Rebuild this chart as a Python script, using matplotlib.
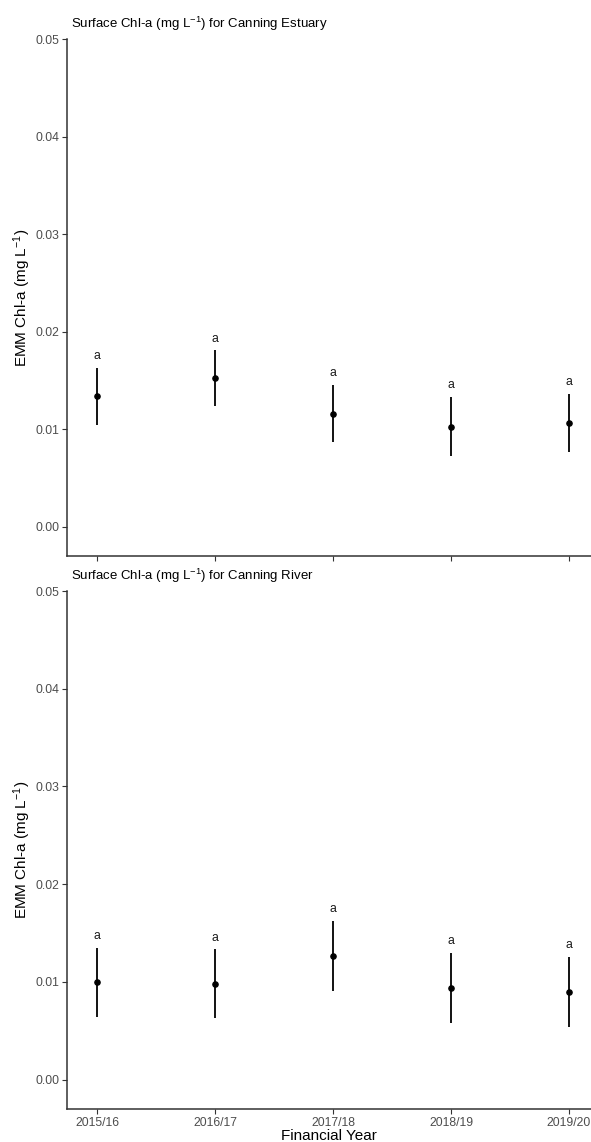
import matplotlib
matplotlib.use("Agg")
import matplotlib.pyplot as plt

plt.rcParams['font.family'] = ['Liberation Sans', 'DejaVu Sans']
plt.rcParams['mathtext.fontset'] = 'custom'
plt.rcParams['mathtext.rm'] = 'Liberation Sans'
plt.rcParams['mathtext.it'] = 'Liberation Sans:italic'

years = ["2015/16", "2016/17", "2017/18", "2018/19", "2019/20"]

# Canning Estuary
est_emm = [0.01338, 0.01526, 0.01160, 0.01027, 0.01068]
est_lo = [0.01041, 0.01235, 0.00867, 0.00727, 0.00768]
est_hi = [0.01628, 0.01809, 0.01454, 0.01328, 0.01365]
est_grp = ["a", "a", "a", "a", "a"]

# Canning River
riv_emm = [0.00997, 0.00983, 0.01266, 0.00942, 0.00901]
riv_lo = [0.00642, 0.00628, 0.00911, 0.00584, 0.00543]
riv_hi = [0.01345, 0.01334, 0.01625, 0.01297, 0.01253]
riv_grp = ["a", "a", "a", "a", "a"]

W, H = 591, 1142
fig = plt.figure(figsize=(W / 100, H / 100), dpi=100)

ax1 = fig.add_axes([67 / W, 1 - 556 / H, (W - 67) / W, 517 / H])
ax2 = fig.add_axes([67 / W, 1 - 1109 / H, (W - 67) / W, 518 / H])

panels = [
    (ax1, est_emm, est_lo, est_hi, est_grp, "Canning Estuary", 39),
    (ax2, riv_emm, riv_lo, riv_hi, riv_grp, "Canning River", 591),
]

for ax, emm, lo, hi, grp, site, top_px in panels:
    x = list(range(len(years)))
    ax.vlines(x, lo, hi, color='black', linewidth=1.3)
    ax.scatter(x, emm, s=14, color='black', zorder=3)
    for xi, h, g in zip(x, hi, grp):
        ax.text(xi, h + 0.0012, g, ha='center', va='center', fontsize=8.8, color='#1a1a1a')

    ax.set_xlim(-0.254, 4.186)
    ax.set_ylim(-0.003, 0.05)
    ax.set_yticks([0.0, 0.01, 0.02, 0.03, 0.04, 0.05])
    ax.set_yticklabels(["0.00", "0.01", "0.02", "0.03", "0.04", "0.05"])
    ax.set_xticks(x)
    for s in ['top', 'right']:
        ax.spines[s].set_visible(False)
    for s in ['left', 'bottom']:
        ax.spines[s].set_color('#333333')
        ax.spines[s].set_linewidth(1.1)
    ax.tick_params(axis='both', length=3.5, width=0.8, color='#333333',
                   labelsize=8.8, labelcolor='#4D4D4D', pad=2)
    ax.set_ylabel("EMM Chl-a (mg L$^{-1}$)", fontsize=11)
    ax.yaxis.set_label_coords(-34 / (W - 67), 0.5)

    fig.text(71 / W, 1 - (top_px - 15) / H,
             "Surface Chl-a (mg L$^{-1}$) for " + site,
             ha='left', va='center', fontsize=9.5)

ax1.set_xticklabels([])
ax2.set_xticklabels(years)
ax2.set_xlabel("Financial Year", fontsize=11, labelpad=0)

fig.savefig("out.png", dpi=100)
